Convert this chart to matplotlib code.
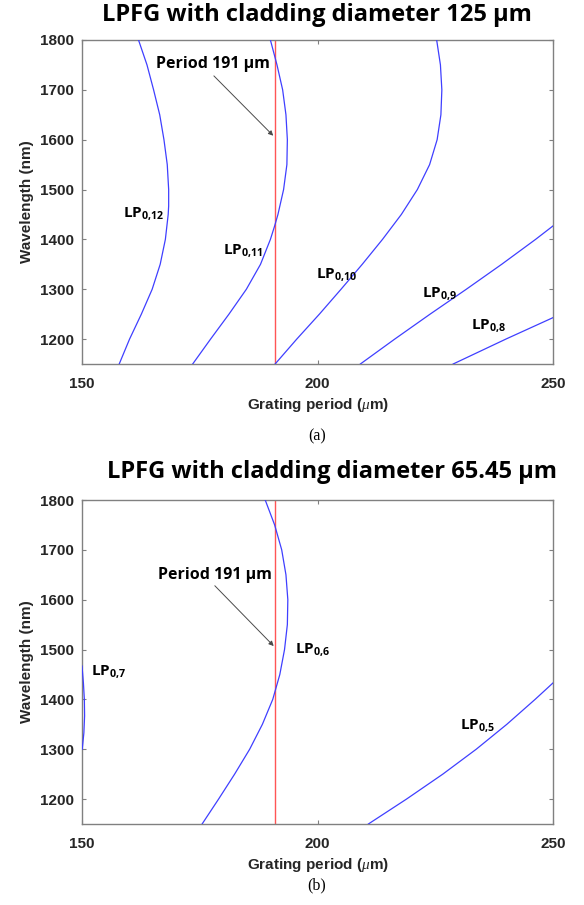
import matplotlib
matplotlib.use("Agg")
import matplotlib.pyplot as plt

# Resonance curves: grating period (um) vs wavelength (nm)
# Panel (a): cladding diameter 125 um
wl_grid = [1800, 1750, 1700, 1650, 1600, 1550, 1500, 1467, 1450, 1400, 1350, 1300, 1250, 1200, 1150]
lp012_x = [162.0, 163.8, 165.2, 166.5, 167.4, 168.1, 168.4, 168.4, 168.3, 167.7, 166.6, 164.9, 162.6, 160.1, 157.9]

lp011_y = [1800, 1750, 1700, 1650, 1600, 1550, 1500, 1450, 1427, 1400, 1350, 1300, 1250, 1200, 1150]
lp011_x = [190.0, 191.4, 192.6, 193.3, 193.6, 193.5, 192.8, 191.6, 190.9, 190.0, 187.9, 184.9, 181.2, 177.3, 173.5]

lp010_y = [1800, 1750, 1700, 1650, 1600, 1550, 1500, 1450, 1400, 1350, 1300, 1250, 1200, 1150]
lp010_x = [225.3, 226.1, 226.4, 226.2, 225.4, 223.8, 221.2, 217.8, 213.8, 209.5, 205.0, 200.4, 195.6, 191.0]

lp09_y = [1150, 1200, 1250, 1300, 1350, 1400, 1427]
lp09_x = [209.1, 216.4, 223.9, 231.6, 239.1, 246.3, 250.0]

lp08_y = [1150, 1200, 1243]
lp08_x = [228.8, 240.0, 250.0]

# Panel (b): cladding diameter 65.45 um
lp06_y = [1800, 1750, 1700, 1650, 1600, 1550, 1500, 1450, 1400, 1350, 1300, 1250, 1200, 1150]
lp06_x = [188.9, 190.9, 192.4, 193.3, 193.7, 193.6, 193.0, 192.0, 190.5, 188.3, 185.6, 182.4, 179.0, 175.5]

lp07_y = [1467, 1433, 1400, 1367, 1333, 1300]
lp07_x = [150.0, 150.3, 150.5, 150.55, 150.4, 150.05]

lp05_y = [1150, 1200, 1250, 1300, 1350, 1400, 1433]
lp05_x = [210.8, 218.9, 226.6, 233.7, 240.2, 246.2, 250.0]

period = 191

BLUE = "#3f3fff"
RED = "#ff5555"
GRAY = "#808080"
DARK = "#262626"
LABEL_FONT = ["Open Sans", "DejaVu Sans"]
TICK_FONT = "Liberation Sans"

plt.rcParams["mathtext.fontset"] = "custom"
plt.rcParams["mathtext.bf"] = "Open Sans:bold"
plt.rcParams["mathtext.rm"] = "Open Sans:bold"
plt.rcParams["mathtext.it"] = "Liberation Serif:italic"


def lp_label(ax, x, y, mode):
    ax.text(x, y, r"LP$_{\mathbf{0{,}%s}}$" % mode, fontsize=11, fontweight="bold",
            family=LABEL_FONT, ha="left", va="baseline")


def style_axes(ax, title, title_x, title_y, letter, letter_y):
    ax.set_xlim(150, 250)
    ax.set_ylim(1150, 1800)
    ax.set_xticks([150, 200, 250])
    ax.set_yticks([1200, 1300, 1400, 1500, 1600, 1700, 1800])
    ax.tick_params(direction="in", top=True, right=True, length=3, width=0.8,
                   color=GRAY, labelsize=11)
    ax.tick_params(axis="x", pad=9)
    ax.tick_params(axis="y", pad=6)
    for lbl in ax.get_xticklabels() + ax.get_yticklabels():
        lbl.set_fontweight("bold")
        lbl.set_family(TICK_FONT)
        lbl.set_color(DARK)
    for sp in ax.spines.values():
        sp.set_color(GRAY)
        sp.set_linewidth(1.0)

    xl = ax.set_xlabel(r"Grating period ($\mu$m)", fontsize=11, fontweight="bold",
                       family=TICK_FONT, color=DARK)
    xl.set_va("center")
    ax.xaxis.set_label_coords(0.5, -41 / 324)
    yl = ax.set_ylabel("Wavelength (nm)", fontsize=11, fontweight="bold",
                       family=TICK_FONT, color=DARK)
    yl.set_va("center")
    ax.yaxis.set_label_coords(-55 / 471, 0.5)

    fig.text(title_x / 584, 1 - title_y / 905, title, fontsize=17, fontweight="bold",
             family=LABEL_FONT, ha="center", va="center")
    fig.text(317 / 584, 1 - letter_y / 905, letter, fontsize=11.5,
             family="Liberation Serif", ha="center", va="center")


def annotate_period(ax, text_xy, arrow_start, arrow_end):
    ax.text(text_xy[0], text_xy[1], "Period 191 \u00b5m", fontsize=11.5,
            fontweight="bold", family=LABEL_FONT, ha="center", va="center")
    ax.annotate("", xy=arrow_end, xytext=arrow_start,
                arrowprops=dict(arrowstyle="-|>", color="#4a4a4a", lw=0.7,
                                mutation_scale=7, shrinkA=0, shrinkB=0))


fig = plt.figure(figsize=(5.84, 9.05), dpi=100)
ax1 = fig.add_axes([82 / 584, 1 - 364 / 905, 471 / 584, 324 / 905])
ax2 = fig.add_axes([82 / 584, 1 - 824 / 905, 471 / 584, 324 / 905])

# panel (a)
ax1.plot(lp012_x, wl_grid, color=BLUE, linewidth=0.9, zorder=3)
ax1.plot(lp011_x, lp011_y, color=BLUE, linewidth=0.9, zorder=3)
ax1.plot(lp010_x, lp010_y, color=BLUE, linewidth=0.9, zorder=3)
ax1.plot(lp09_x, lp09_y, color=BLUE, linewidth=0.9, zorder=3)
ax1.plot(lp08_x, lp08_y, color=BLUE, linewidth=0.9, zorder=3)
ax1.axvline(period, color=RED, linewidth=1.0, zorder=2)
lp_label(ax1, 158.6, 1445, "12")
lp_label(ax1, 179.9, 1370, "11")
lp_label(ax1, 199.7, 1322, "10")
lp_label(ax1, 222.2, 1285, "9")
lp_label(ax1, 232.5, 1220, "8")
annotate_period(ax1, (177.8, 1751), (178.0, 1728), (190.6, 1608))
style_axes(ax1, "LPFG with cladding diameter 125 \u00b5m", 317, 15, "(a)", 436)

# panel (b)
ax2.plot(lp06_x, lp06_y, color=BLUE, linewidth=0.9, zorder=3)
ax2.plot(lp07_x, lp07_y, color=BLUE, linewidth=0.9, zorder=3)
ax2.plot(lp05_x, lp05_y, color=BLUE, linewidth=0.9, zorder=3)
ax2.axvline(period, color=RED, linewidth=1.0, zorder=2)
lp_label(ax2, 195.2, 1493, "6")
lp_label(ax2, 152.0, 1450, "7")
lp_label(ax2, 230.2, 1341, "5")
annotate_period(ax2, (178.2, 1650), (178.2, 1628), (190.7, 1507))
style_axes(ax2, "LPFG with cladding diameter 65.45 \u00b5m", 332, 472, "(b)", 885)

fig.savefig("out.png", dpi=100)
